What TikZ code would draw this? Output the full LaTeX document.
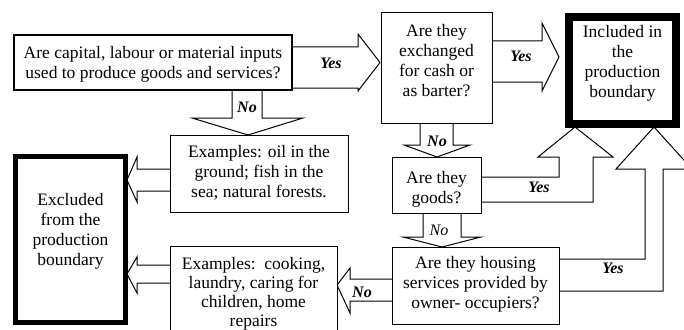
\documentclass[tikz,border=0pt]{standalone}
\usepackage{fontspec}
\setmainfont{Liberation Serif}
\begin{document}
\begin{tikzpicture}[x=1pt,y=-1pt,
  box/.style={draw, line width=1pt, inner sep=0pt, fill=white},
  txt/.style={align=center, font=\fontsize{17.5}{20}\selectfont, inner sep=0pt},
  blk/.style={draw, line width=1pt, fill=white, line join=miter},
  lab/.style={font=\fontsize{16}{16}\selectfont\bfseries\itshape, inner sep=0pt},
  labn/.style={font=\fontsize{16}{16}\selectfont\itshape, inner sep=0pt}]
\useasboundingbox (0,0) rectangle (684,329);
\clip (0,0) rectangle (684,329);
\fill[white] (0,0) rectangle (684,329);

% title fragment
\node[font=\fontsize{17}{17}\selectfont\bfseries, anchor=base, inner sep=0pt] (ttl) at (450,-3) {y};

% block arrows
\draw[blk] (293,47) -- (358,47) -- (358,34) -- (380,62.5) -- (358,91) -- (358,88) -- (293,88);
\draw[blk] (232,91) -- (232,118) -- (192,118) -- (248,135) -- (303,118) -- (262,118) -- (262,91);
\draw[blk] (170,169) -- (137,169) -- (137,157) -- (127,180) -- (137,202) -- (137,191) -- (170,191);
\draw[blk] (170,265) -- (137,265) -- (137,257) -- (127,274) -- (137,293) -- (137,283) -- (170,283);
\draw[blk] (392,279) -- (350,279) -- (350,268) -- (337,285) -- (350,313) -- (350,301) -- (392,301);
\draw[blk] (420,123) -- (420,145) -- (404,145) -- (437,157) -- (470,145) -- (453,145) -- (453,123);
\draw[blk] (492,41) -- (542,41) -- (542,23) -- (559,57) -- (542,91) -- (542,82) -- (492,82);
\draw[blk] (423,213) -- (423,237) -- (403,237) -- (442,247) -- (481,237) -- (461,237) -- (461,213);
\draw[blk] (481,177) -- (559,177) -- (559,157) -- (538,157) -- (575,127) -- (613,157) -- (593,157) -- (593,202) -- (481,202);
\draw[blk] (559,259) -- (645,259) -- (645,169) -- (616,169) -- (654,127) -- (692,169) -- (663,169) -- (663,291) -- (559,291);

% boxes
\node[box, line width=2pt, minimum width=278, minimum height=55] (q1) at (153,62.5) {};
\node[box, minimum width=111, minimum height=110] (q2) at (436.5,68) {};
\node[box, line width=8pt, minimum width=107, minimum height=107] (inc) at (622.5,70.5) {};
\node[box, minimum width=178, minimum height=77] (ex1) at (259,173.5) {};
\node[box, line width=5pt, minimum width=110, minimum height=166] (excl) at (70.5,239.5) {};
\node[box, minimum width=167, minimum height=99] (ex2) at (253.5,295.5) {};
\node[box, minimum width=89, minimum height=56] (gd) at (436.5,185) {};
\node[box, minimum width=167, minimum height=77] (hs) at (475.5,285.5) {};

% texts
\node[txt] (q1t) at (153,64) {Are capital, labour or material inputs\\used to produce goods and services?};
\node[txt] (q2t) at (436.5,61) {Are they\\exchanged\\for cash or\\as barter?};
\node[txt] (inct) at (622.5,63) {Included in\\the\\production\\boundary};
\node[txt] (ex1t) at (259,173) {Examples: oil in the\\ground; fish in the\\sea; natural forests.};
\node[txt] (exclt) at (70.5,231) {Excluded\\from the\\production\\boundary};
\node[txt, font=\fontsize{17.5}{19}\selectfont] (ex2t) at (253.5,293.5) {Examples:\ \ cooking,\\laundry, caring for\\children, home\\repairs};
\node[txt] (gdt) at (436.5,189) {Are they\\goods?};
\node[txt] (hst) at (475.5,284) {Are they housing\\services provided by\\owner- occupiers?};

% labels
\node[lab] (y1) at (331,63) {Yes};
\node[lab] (n1) at (247,107) {No};
\node[lab] (y2) at (521,56) {Yes};
\node[lab] (n2) at (437,141) {No};
\node[labn] (n3) at (439,230) {No};
\node[lab] (y3) at (539,187) {Yes};
\node[lab] (y4) at (613,268) {Yes};
\node[lab] (n4) at (362,292) {No};
\end{tikzpicture}
\end{document}
